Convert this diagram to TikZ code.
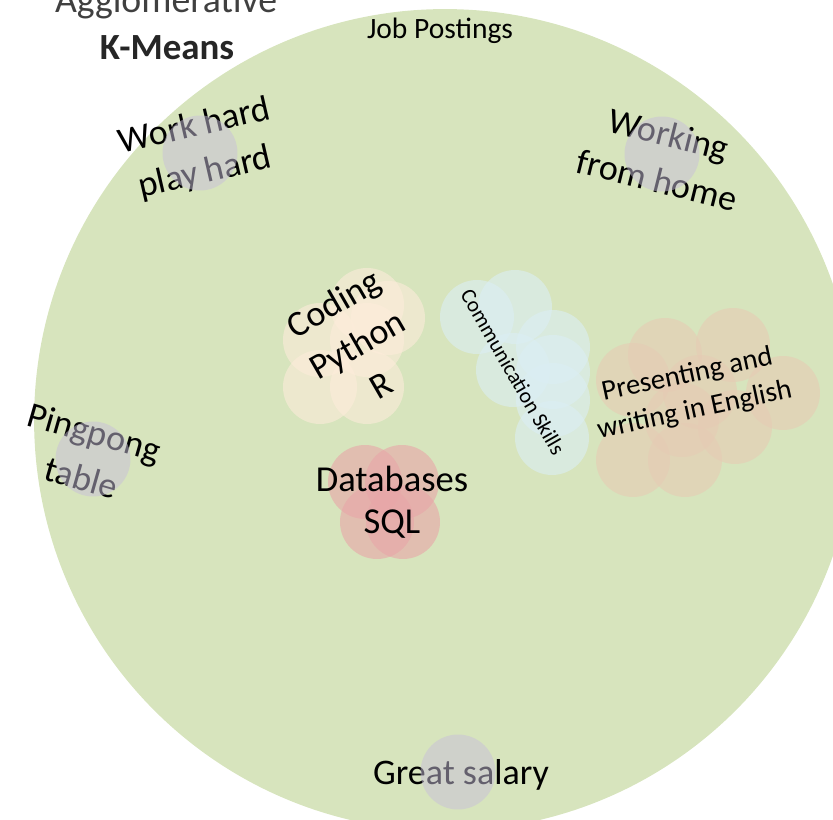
\documentclass[tikz,border=0pt]{standalone}
\usepackage{fontspec}
\setmainfont{Carlito}
\definecolor{postingsgreen}{RGB}{215,228,189}
\definecolor{codingcream}{RGB}{253,236,218}
\definecolor{commblue}{RGB}{219,238,244}
\definecolor{presenttan}{RGB}{230,203,180}
\definecolor{databasepink}{RGB}{232,166,168}
\definecolor{perkgray}{RGB}{200,192,218}
\definecolor{titlegray}{RGB}{64,64,64}
\definecolor{titledark}{RGB}{38,38,38}
\begin{document}
\begin{tikzpicture}[x=0.02cm, y=-0.02cm,
    blob/.style ={circle, inner sep=0pt, minimum size=1.48cm, fill opacity=0.6},
    perk/.style ={circle, inner sep=0pt, minimum size=1.5cm, fill=perkgray, fill opacity=0.5},
    big/.style ={font=\fontsize{20.5}{27}\selectfont, align=center, inner sep=0pt}]
   \useasboundingbox (0,0) rectangle (833,820);
   \node[circle, fill=postingsgreen, inner sep=0pt, minimum size=16.44cm] (postings) at (445,420) {};
   \node[blob, fill=codingcream] (cod1) at (320,340) {};
   \node[blob, fill=codingcream] (cod2) at (367,305) {};
   \node[blob, fill=codingcream] (cod3) at (388,318) {};
   \node[blob, fill=codingcream] (cod4) at (367,340) {};
   \node[blob, fill=codingcream] (cod5) at (320,387) {};
   \node[blob, fill=codingcream] (cod6) at (367,387) {};
   \node[blob, fill=commblue] (com1) at (477,317) {};
   \node[blob, fill=commblue] (com2) at (515,307) {};
   \node[blob, fill=commblue] (com3) at (553,347) {};
   \node[blob, fill=commblue] (com4) at (513,370) {};
   \node[blob, fill=commblue] (com5) at (553,372) {};
   \node[blob, fill=commblue] (com6) at (553,400) {};
   \node[blob, fill=commblue] (com7) at (552,438) {};
   \node[blob, fill=presenttan] (pre1) at (633,380) {};
   \node[blob, fill=presenttan] (pre2) at (665,355) {};
   \node[blob, fill=presenttan] (pre3) at (733,345) {};
   \node[blob, fill=presenttan] (pre4) at (783,393) {};
   \node[blob, fill=presenttan] (pre5) at (735,427) {};
   \node[blob, fill=presenttan] (pre6) at (633,460) {};
   \node[blob, fill=presenttan] (pre7) at (685,460) {};
   \node[blob, fill=presenttan] (pre8) at (700,392) {};
   \node[blob, fill=presenttan] (pre9) at (682,420) {};
   \node[blob, fill=databasepink] (dat1) at (365,482) {};
   \node[blob, fill=databasepink] (dat2) at (402,482) {};
   \node[blob, fill=databasepink] (dat3) at (377,522) {};
   \node[blob, fill=databasepink] (dat4) at (403,522) {};
   \node[anchor=base, text=titlegray, font=\fontsize{21.5}{26}\selectfont, inner sep=0pt] (agglo) at (166,13) {Agglomerative};
   \node[anchor=base, text=titledark, font=\fontsize{21}{26}\selectfont\bfseries, inner sep=0pt] (kmeans) at (167,60) {K-Means};
   \node[anchor=base, font=\fontsize{16.8}{20}\selectfont, inner sep=0pt] (jobs) at (440,39) {Job Postings};
   \node[big, rotate=30] (coding) at (357,344) {Coding\\Python\\R};
   \node[font=\fontsize{12.3}{14}\selectfont, rotate=-60, inner sep=0pt] (comm) at (513,372) {Communication Skills};
   \node[font=\fontsize{16.3}{20.5}\selectfont, align=center, rotate=12, inner sep=0pt] (present) at (691,393) {Presenting and\\writing in English};
   \node[font=\fontsize{20.8}{24}\selectfont, align=center, inner sep=0pt] (databases) at (392,502) {Databases\\SQL};
   \node[big, rotate=13] (workhard) at (200,150) {Work hard\\play hard};
   \node[big, rotate=-14] (home) at (663,157) {Working\\from home};
   \node[big, rotate=-16] (pingpong) at (88,455) {Pingpong\\table};
   \node[big, anchor=base] (salary) at (461,785) {Great salary};
   \node[perk] (perkwork) at (200,153) {};
   \node[perk] (perkhome) at (662,154) {};
   \node[perk] (perkping) at (93,459) {};
   \node[perk] (perksalary) at (458,772) {};
 \end{tikzpicture}
\end{document}
